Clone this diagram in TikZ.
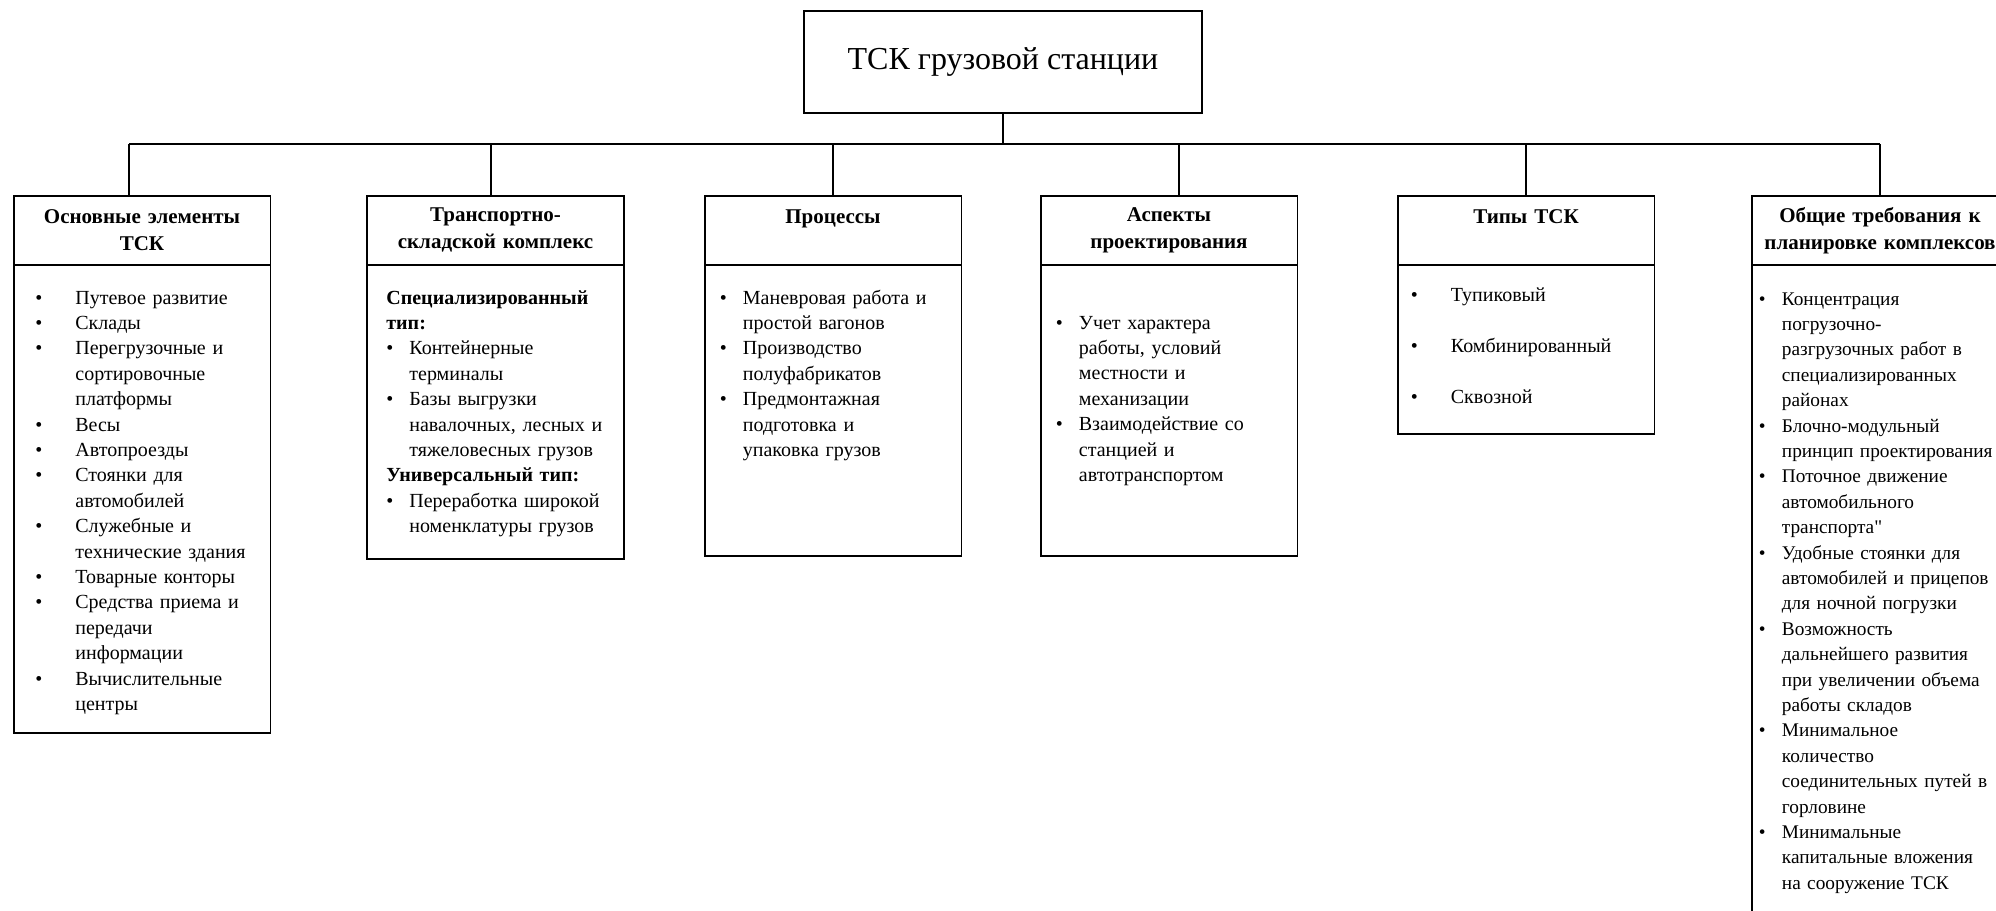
\documentclass[tikz,border=0pt]{standalone}
\usepackage{fontspec}
\setmainfont{Liberation Serif}[Ligatures=TeXOff]
\usetikzlibrary{positioning}

% bullet list lines with a hanging indent
\newlength{\bind}
\setlength{\bind}{11.5pt}
\newcommand{\bitem}[1]{\noindent\hangindent=\bind\hangafter=1\makebox[\bind][l]{\textbullet}#1\par}
\newcommand{\subhead}[1]{\noindent\textbf{#1}\par}

\begin{document}
\begin{tikzpicture}[x=0.5pt,y=-0.5pt,
   box/.style={draw,line width=0.9pt,rectangle,inner sep=2pt},
   head/.style={rectangle,inner sep=2pt,anchor=north,text width=124pt,minimum height=34pt,align=center,font=\fontsize{10.5}{13.5}\selectfont\bfseries},
   body/.style={rectangle,inner sep=0pt,anchor=north,minimum width=128pt,minimum height=#1},
   frame/.style={line width=0.9pt},
   txt/.style={anchor=base west,inner sep=0pt,text width=#1,font=\fontsize{10}{12.7}\selectfont},
   bulind/.code={\setlength{\bind}{#1}},
   link/.style={line width=0.7pt}]

   \clip (0,0) rectangle (1996,910);

   % Nodes
      \node[box,minimum width=199pt,minimum height=51pt,font=\fontsize{16}{19}\selectfont] (root) at (1003,62) {ТСК грузовой станции};

      \node[head] (elemh)  at (142,196)    {Основные элементы\\ТСК};
      \node[head] (tskh)   at (495.5,196)  {Транспортно-\\складской комплекс};
      \node[head] (proch)  at (833,196)    {Процессы\\~};
      \node[head] (asph)   at (1169,196)   {Аспекты\\проектирования};
      \node[head] (typesh) at (1526,196)   {Типы ТСК\\~};
      \node[head] (reqh)   at (1880,196)   {Общие требования к\\планировке комплексов};

      \node[body=233.5pt] (elemb)  at (elemh.south)  {};
      \node[body=146.5pt] (tskb)   at (tskh.south)   {};
      \node[body=145pt]   (procb)  at (proch.south)  {};
      \node[body=145pt]   (aspb)   at (asph.south)   {};
      \node[body=84pt]    (typesb) at (typesh.south) {};
      \node[body=350pt]   (reqb)   at (reqh.south)   {};

   % Frames: outline plus the line under the header
      \draw[frame] (elemh.north west)  rectangle (elemb.south east)  (elemh.south west)  -- (elemh.south east);
      \draw[frame] (tskh.north west)   rectangle (tskb.south east)   (tskh.south west)   -- (tskh.south east);
      \draw[frame] (proch.north west)  rectangle (procb.south east)  (proch.south west)  -- (proch.south east);
      \draw[frame] (asph.north west)   rectangle (aspb.south east)   (asph.south west)   -- (asph.south east);
      \draw[frame] (typesh.north west) rectangle (typesb.south east) (typesh.south west) -- (typesh.south east);
      \draw[frame] (reqh.north west)   rectangle (reqb.south east)   (reqh.south west)   -- (reqh.south east);

   % Lists
      \node[txt=115pt,bulind=20pt] (elemt) at (35,304) {%
         \bitem{Путевое развитие}
         \bitem{Склады}
         \bitem{Перегрузочные и\newline сортировочные\newline платформы}
         \bitem{Весы}
         \bitem{Автопроезды}
         \bitem{Стоянки для\newline автомобилей}
         \bitem{Служебные и\newline технические здания}
         \bitem{Товарные конторы}
         \bitem{Средства приема и\newline передачи\newline информации}
         \bitem{Вычислительные\newline центры}};
      \node[txt=118pt] (tskt) at (386,304) {%
         \subhead{Специализированный\newline тип:}
         \bitem{Контейнерные\newline терминалы}
         \bitem{Базы выгрузки\newline навалочных, лесных и\newline тяжеловесных грузов}
         \subhead{Универсальный тип:}
         \bitem{Переработка широкой\newline номенклатуры грузов}};
      \node[txt=118pt] (proct) at (719.5,304) {%
         \bitem{Маневровая работа и\newline простой вагонов}
         \bitem{Производство\newline полуфабрикатов}
         \bitem{Предмонтажная\newline подготовка и\newline упаковка грузов}};
      \node[txt=118pt] (aspt) at (1055.5,329) {%
         \bitem{Учет характера\newline работы, условий\newline местности и\newline механизации}
         \bitem{Взаимодействие со\newline станцией и\newline автотранспортом}};
      \node[txt=115pt,bulind=20pt,font=\fontsize{10}{25.5}\selectfont] (typest) at (1410.5,301) {%
         \bitem{Тупиковый}
         \bitem{Комбинированный}
         \bitem{Сквозной}};
      \node[txt=125pt,font=\fontsize{9.65}{12.7}\selectfont] (reqt) at (1758.5,305) {%
         \bitem{Концентрация\newline погрузочно-\newline разгрузочных работ в\newline специализированных\newline районах}
         \bitem{Блочно-модульный\newline принцип проектирования}
         \bitem{Поточное движение\newline автомобильного\newline транспорта"}
         \bitem{Удобные стоянки для\newline автомобилей и прицепов\newline для ночной погрузки}
         \bitem{Возможность\newline дальнейшего развития\newline при увеличении объема\newline работы складов}
         \bitem{Минимальное\newline количество\newline соединительных путей в\newline горловине}
         \bitem{Минимальные\newline капитальные вложения\newline на сооружение ТСК}};

   % Paths
      \coordinate (bar) at (1003,144);
      \coordinate (e1) at ([xshift=-6.5pt]elemh.north);
      \coordinate (e2) at ([xshift=-2.25pt]tskh.north);
      \coordinate (e4) at ([xshift=5pt]asph.north);
      \draw[link] (root.south) -- (root.south |- bar);
      \draw[link] (e1 |- bar) -- (reqh.north |- bar);
      \path[link] (e1)          edge (e1 |- bar)
                  (e2)          edge (e2 |- bar)
                  (proch.north) edge (proch.north |- bar)
                  (e4)          edge (e4 |- bar)
                  (typesh.north) edge (typesh.north |- bar)
                  (reqh.north)  edge (reqh.north |- bar);
\end{tikzpicture}
\end{document}
